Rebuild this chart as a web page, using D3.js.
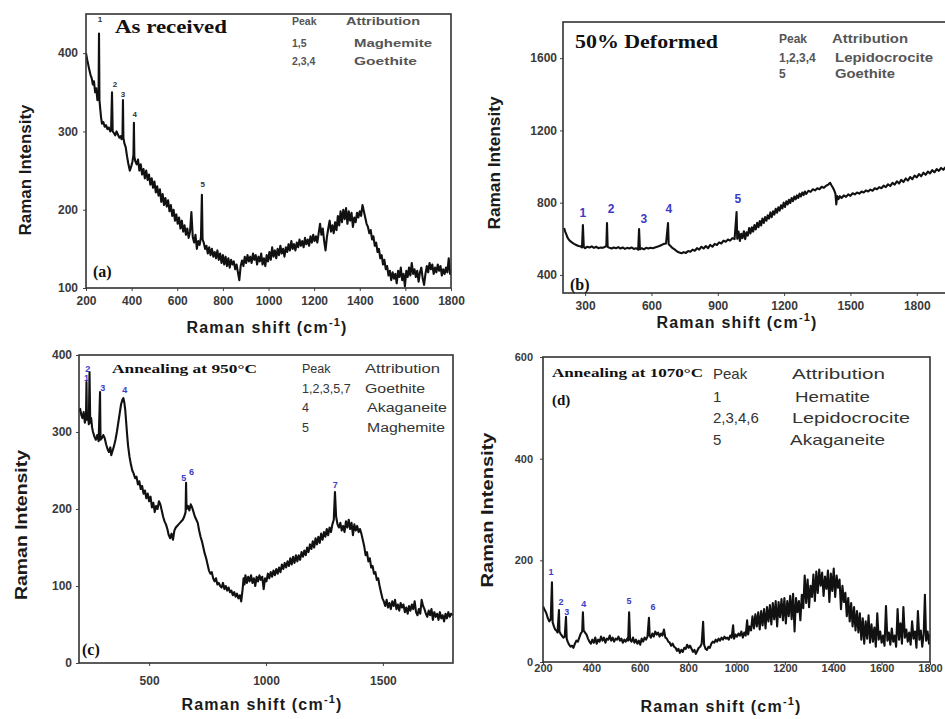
<!DOCTYPE html>
<html>
<head>
<meta charset="utf-8">
<script src="https://cdn.jsdelivr.net/npm/d3@7"></script>
<style>
  body { margin: 0; background: #fff; }
  svg { display: block; }
</style>
</head>
<body>
<div id="chart"></div>
<script>
// spectra: [Raman shift, intensity]
var specA = [
  [200,400],[205,392],[210,385],[215,378],[220,372],[225,368],[230,360],[235,364],[240,350],[245,355],[250,340],[255,345],
  [257,425],[259,340],[262,330],[266,318],[270,310],[276,312],[282,306],[288,308],[294,303],[300,305],[306,300],[310,302],
  [314,350],[317,300],[322,298],[328,295],[334,300],[340,296],[346,292],[352,294],[356,290],[360,296],[362,340],[364,292],
  [368,285],[374,280],[380,268],[386,258],[392,250],[398,255],[404,262],[408,270],[410,311],[412,268],[416,262],[422,258],
  [428,264],[434,250],[440,258],[446,245],[452,252],[458,240],[464,250],[470,238],[476,245],[482,232],[488,240],[494,228],
  [500,236],[506,222],[512,230],[518,218],[524,226],[530,210],[536,220],[542,206],[548,215],[554,204],[560,212],[566,198],
  [572,206],[578,192],[584,200],[590,186],[596,194],[602,182],[608,190],[614,176],[620,186],[626,172],[632,180],[638,168],
  [644,176],[650,164],[656,172],[662,197],[668,165],[674,158],[680,168],[686,150],[692,160],[698,155],[704,165],[708,219],
  [711,162],[716,158],[722,150],[728,154],[734,144],[740,152],[746,142],[752,150],[758,140],[764,146],[770,138],[776,148],
  [782,136],[788,144],[794,132],[800,142],[806,130],[812,140],[818,128],[824,138],[830,126],[836,136],[842,130],[848,134],
  [854,124],[860,130],[866,120],[872,110],[878,128],[884,135],[890,128],[896,140],[902,132],[908,142],[914,134],[920,140],
  [926,132],[932,144],[938,136],[944,142],[950,130],[956,140],[962,134],[968,144],[974,130],[980,138],[986,128],[992,142],
  [998,134],[1004,146],[1010,136],[1016,152],[1022,140],[1028,148],[1034,138],[1040,150],[1046,142],[1052,154],[1058,144],
  [1064,150],[1070,140],[1076,152],[1082,146],[1088,156],[1094,148],[1100,160],[1106,150],[1112,156],[1118,148],[1124,158],
  [1130,152],[1136,162],[1142,154],[1148,160],[1154,152],[1160,164],[1166,156],[1172,162],[1178,154],[1184,166],[1190,158],
  [1196,168],[1202,160],[1208,166],[1214,158],[1220,170],[1226,182],[1232,168],[1238,176],[1244,160],[1250,148],[1256,165],
  [1262,176],[1268,186],[1274,172],[1280,180],[1286,170],[1292,184],[1298,174],[1304,192],[1310,180],[1316,198],[1322,184],
  [1328,200],[1334,188],[1340,202],[1346,182],[1352,198],[1358,186],[1364,196],[1370,178],[1376,190],[1382,184],[1388,196],
  [1394,190],[1400,198],[1406,192],[1412,206],[1418,198],[1424,190],[1430,182],[1436,178],[1442,170],[1448,174],[1454,162],
  [1460,166],[1466,154],[1472,158],[1478,146],[1484,150],[1490,138],[1496,142],[1502,130],[1508,136],[1514,124],[1520,128],
  [1526,116],[1532,122],[1538,110],[1544,120],[1550,112],[1556,118],[1562,106],[1568,122],[1574,114],[1580,126],[1586,110],
  [1592,118],[1598,102],[1604,122],[1610,114],[1616,126],[1622,116],[1628,132],[1634,118],[1640,124],[1646,114],[1652,122],
  [1658,108],[1664,120],[1670,126],[1676,112],[1682,104],[1688,118],[1694,128],[1700,120],[1706,132],[1712,124],[1718,130],
  [1724,118],[1730,126],[1736,120],[1742,130],[1748,122],[1754,128],[1760,116],[1766,124],[1772,118],[1778,126],[1784,120],
  [1790,138],[1796,118],[1800,122]
];

var specB = [
  [205,660],[210,640],[215,625],[220,608],[225,598],[230,590],[240,580],[250,572],[260,566],[270,560],[280,558],[286,552],
  [290,676],[294,556],[300,548],[310,556],[320,552],[330,558],[340,550],[350,556],[360,548],[370,552],[380,550],[390,556],
  [396,560],[399,687],[402,555],[410,550],[420,546],[430,552],[440,548],[450,554],[460,546],[470,552],[480,544],[490,550],
  [500,546],[510,552],[520,544],[530,548],[540,540],[544,654],[548,542],[556,548],[566,542],[576,550],[586,546],[596,550],
  [606,548],[616,552],[626,556],[636,560],[646,566],[656,572],[666,574],[675,687],[678,570],[686,560],[696,548],[706,540],
  [716,530],[726,524],[736,520],[746,526],[756,522],[766,532],[776,528],[786,540],[796,534],[806,548],[816,540],[826,556],
  [836,546],[846,560],[856,548],[866,566],[876,556],[886,572],[896,566],[906,580],[916,574],[926,590],[936,584],[946,596],
  [956,590],[966,604],[976,598],[985,748],[988,600],[994,640],[1000,588],[1006,628],[1012,604],[1018,642],[1024,598],
  [1030,636],[1036,618],[1042,660],[1048,630],[1054,664],[1060,640],[1066,676],[1072,652],[1078,688],[1084,664],[1090,698],
  [1096,674],[1102,712],[1108,688],[1114,720],[1120,700],[1126,730],[1132,712],[1138,746],[1144,720],[1150,752],[1156,734],
  [1162,766],[1168,744],[1174,774],[1180,756],[1186,786],[1192,768],[1198,800],[1204,776],[1210,808],[1216,790],[1222,816],
  [1228,798],[1234,826],[1240,808],[1246,834],[1252,818],[1258,840],[1264,826],[1270,850],[1276,834],[1282,856],[1288,842],
  [1294,862],[1300,848],[1310,866],[1320,860],[1330,874],[1340,868],[1350,880],[1360,874],[1370,888],[1380,882],[1390,894],
  [1400,900],[1408,910],[1414,896],[1420,884],[1426,870],[1432,850],[1436,790],[1440,836],[1446,820],[1452,836],[1460,826],
  [1470,840],[1480,832],[1490,846],[1500,838],[1510,852],[1520,846],[1530,856],[1540,850],[1550,862],[1560,856],[1570,868],
  [1580,862],[1590,872],[1600,866],[1610,880],[1620,874],[1630,886],[1640,880],[1650,894],[1660,886],[1670,902],[1680,892],
  [1690,910],[1700,900],[1710,918],[1720,906],[1730,926],[1740,914],[1750,934],[1760,922],[1770,942],[1780,930],[1790,950],
  [1800,940],[1810,958],[1820,946],[1830,966],[1840,954],[1850,972],[1860,962],[1870,980],[1880,968],[1890,986],[1900,976],
  [1910,992],[1920,982],[1930,996],[1940,986],[1950,1000],[1960,990],[1970,1004],[1980,994],[1990,1008],[2000,998]
];

var specC = [
  [200,326],[205,330],[210,322],[215,318],[220,326],[225,312],[230,320],[232,365],[234,316],[238,324],[242,310],[245,378],
  [248,312],[252,318],[256,306],[260,300],[266,294],[272,290],[278,296],[284,288],[290,352],[292,290],[298,292],[304,296],
  [310,292],[316,284],[322,278],[328,274],[334,280],[338,270],[344,276],[350,282],[356,290],[362,300],[368,312],[374,324],
  [380,336],[386,342],[390,344],[394,338],[398,328],[402,312],[406,296],[410,282],[416,268],[422,258],[428,250],[434,246],
  [440,240],[446,242],[452,232],[458,236],[464,226],[470,230],[476,220],[482,224],[488,214],[494,220],[500,210],[506,216],
  [512,202],[518,208],[524,196],[530,204],[536,200],[542,210],[548,206],[554,198],[560,190],[566,184],[572,180],[578,174],
  [584,166],[590,162],[596,168],[602,160],[608,172],[614,176],[620,178],[626,180],[632,182],[638,184],[644,186],[650,190],
  [656,196],[658,234],[660,200],[666,204],[672,198],[678,206],[684,202],[690,196],[696,190],[702,186],[708,182],[714,172],
  [720,164],[726,158],[732,150],[738,142],[744,136],[750,128],[756,120],[762,116],[768,118],[774,110],[780,106],[786,110],
  [792,102],[798,104],[804,100],[810,98],[816,104],[822,96],[828,100],[834,94],[840,98],[846,92],[852,94],[858,88],
  [864,92],[870,86],[876,90],[882,84],[888,88],[894,80],[900,96],[904,110],[908,102],[912,114],[918,104],[924,112],
  [930,106],[936,114],[942,104],[948,110],[954,100],[960,112],[966,106],[972,114],[978,108],[984,112],[990,96],[996,110],
  [1002,106],[1008,116],[1014,110],[1020,118],[1026,112],[1032,120],[1038,114],[1044,122],[1050,116],[1056,124],[1062,118],
  [1068,128],[1074,122],[1080,130],[1086,124],[1092,132],[1098,126],[1104,136],[1110,128],[1116,138],[1122,130],[1128,140],
  [1134,132],[1140,140],[1146,134],[1152,144],[1158,138],[1164,146],[1170,140],[1176,150],[1182,144],[1188,154],[1194,148],
  [1200,158],[1206,150],[1212,162],[1218,154],[1224,164],[1230,156],[1236,168],[1242,160],[1248,170],[1254,164],[1260,174],
  [1266,166],[1272,176],[1278,170],[1284,180],[1290,186],[1295,222],[1300,190],[1306,180],[1312,176],[1318,182],[1324,172],
  [1330,178],[1336,170],[1342,184],[1348,176],[1354,186],[1360,174],[1366,182],[1372,166],[1378,180],[1384,172],[1390,178],
  [1396,170],[1402,174],[1408,168],[1414,160],[1420,152],[1426,140],[1432,144],[1438,132],[1444,136],[1450,124],[1456,126],
  [1462,116],[1468,118],[1474,108],[1480,110],[1486,100],[1492,92],[1498,84],[1504,80],[1510,74],[1516,82],[1522,72],
  [1528,78],[1534,70],[1540,80],[1546,74],[1552,82],[1558,70],[1564,76],[1570,68],[1576,78],[1582,72],[1588,76],[1594,66],
  [1600,72],[1606,64],[1612,74],[1618,68],[1624,76],[1630,70],[1636,80],[1642,66],[1648,62],[1654,70],[1660,64],[1666,82],
  [1672,74],[1678,70],[1684,64],[1690,60],[1696,68],[1702,62],[1708,70],[1714,56],[1720,66],[1726,60],[1732,64],[1738,56],
  [1744,66],[1750,58],[1756,62],[1762,54],[1768,64],[1774,58],[1780,66],[1786,60],[1792,64],[1800,62]
];

var specD = [
  [200,110],[205,104],[210,100],[215,94],[220,86],[226,80],[232,84],[237,157],[240,78],[245,70],[250,64],[255,62],[260,58],
  [266,102],[268,60],[272,56],[278,52],[284,48],[290,50],[295,89],[298,46],[302,40],[308,34],[314,30],[320,32],[326,28],
  [332,36],[338,42],[344,40],[350,48],[356,56],[362,60],[365,98],[368,62],[374,58],[380,54],[386,46],[392,40],[398,36],
  [404,44],[410,38],[416,48],[422,36],[428,44],[434,40],[440,50],[446,42],[452,48],[458,38],[464,46],[470,44],[476,52],
  [482,42],[488,48],[494,40],[500,46],[506,44],[512,50],[518,42],[524,46],[530,38],[536,44],[542,40],[548,46],[552,42],
  [556,98],[560,44],[566,40],[572,48],[578,38],[584,44],[590,36],[596,42],[602,34],[608,46],[614,40],[620,48],[626,44],
  [632,50],[638,87],[641,52],[646,48],[652,56],[658,50],[664,60],[670,54],[676,58],[682,50],[688,56],[694,52],[700,64],
  [706,48],[712,46],[718,40],[724,38],[730,32],[736,36],[742,30],[748,28],[754,22],[760,26],[766,18],[772,24],[778,20],
  [784,28],[790,26],[796,34],[802,28],[808,32],[814,26],[820,20],[826,24],[832,16],[838,22],[844,28],[850,30],[856,36],
  [862,79],[866,34],[872,26],[878,24],[884,30],[890,28],[896,36],[902,40],[908,38],[914,44],[920,40],[926,46],[932,42],
  [938,48],[944,44],[950,50],[956,46],[962,48],[968,44],[974,52],[980,48],[986,72],[990,46],[996,54],[1002,50],[1008,56],
  [1014,52],[1020,60],[1026,48],[1032,58],[1038,52],[1044,82],[1048,54],[1054,70],[1060,62],[1066,90],[1072,66],[1078,94],
  [1084,70],[1090,98],[1096,64],[1102,100],[1108,72],[1114,104],[1120,66],[1126,108],[1132,80],[1138,112],[1144,74],
  [1150,116],[1156,84],[1162,120],[1168,70],[1174,118],[1180,88],[1186,124],[1192,82],[1198,126],[1204,76],[1210,120],
  [1216,90],[1222,130],[1228,84],[1234,134],[1240,60],[1246,126],[1252,98],[1258,120],[1264,82],[1270,132],[1276,106],
  [1282,170],[1288,116],[1294,162],[1300,108],[1306,150],[1312,128],[1318,172],[1324,120],[1330,178],[1336,136],[1342,182],
  [1348,150],[1354,176],[1360,130],[1366,168],[1372,144],[1378,180],[1384,118],[1390,174],[1396,140],[1402,184],[1408,128],
  [1414,170],[1420,146],[1426,162],[1432,104],[1438,150],[1444,118],[1450,136],[1456,90],[1462,126],[1468,80],[1474,116],
  [1480,70],[1486,108],[1492,62],[1498,100],[1504,58],[1510,96],[1516,44],[1522,86],[1528,36],[1534,80],[1540,46],
  [1546,92],[1552,38],[1558,74],[1564,40],[1570,68],[1576,30],[1582,96],[1588,44],[1594,60],[1600,38],[1606,52],[1612,32],
  [1618,110],[1624,42],[1630,58],[1636,34],[1642,66],[1648,40],[1654,52],[1660,30],[1666,104],[1672,44],[1678,76],
  [1684,36],[1690,108],[1696,48],[1702,64],[1708,40],[1714,58],[1720,34],[1726,80],[1732,46],[1738,60],[1744,28],
  [1750,100],[1756,44],[1762,62],[1768,30],[1774,56],[1779,132],[1784,42],[1790,60],[1796,36],[1800,54]
];

// tick values
var xTicksA = [200, 400, 600, 800, 1000, 1200, 1400, 1600, 1800];
var yTicksA = [100, 200, 300, 400];
var xTicksB = [300, 600, 900, 1200, 1500, 1800];
var yTicksB = [400, 800, 1200, 1600];
var xTicksC = [500, 1000, 1500];
var yTicksC = [0, 100, 200, 300, 400];
var xTicksD = [200, 400, 600, 800, 1000, 1200, 1400, 1600, 1800];
var yTicksD = [0, 200, 400, 600];

// peak numbers: [label, shift, intensity]
var peaksA = [["1",261,440],["2",327,357],["3",362,344],["4",414,318],["5",712,229]];
var peaksB = [["1",290,720],["2",417,743],["3",566,687],["4",679,743],["5",991,798]];
var peaksC = [["1",232,366],["2",238,378],["3",302,353],["4",396,351],["5",648,236],["6",681,244],["7",1296,227]];
var peaksD = [["1",233,171],["2",274,112],["3",298,93],["4",369,108],["5",556,114],["6",655,102]];

// peak / attribution tables
var legendA = [["Peak","Attribution"],["1,5","Maghemite"],["2,3,4","Goethite"]];
var legendB = [["Peak","Attribution"],["1,2,3,4","Lepidocrocite"],["5","Goethite"]];
var legendC = [["Peak","Attribution"],["1,2,3,5,7","Goethite"],["4","Akaganeite"],["5","Maghemite"]];
var legendD = [["Peak","Attribution"],["1","Hematite"],["2,3,4,6","Lepidocrocite"],["5","Akaganeite"]];

var titles = ["As received", "50% Deformed", "Annealing at 950\u00b0C", "Annealing at 1070\u00b0C"];
var tags = ["(a)", "(b)", "(c)", "(d)"];

var W = 945, H = 719;
var SANS = "'Liberation Sans', Arial, sans-serif";
var SERIF = "'Liberation Serif', 'Times New Roman', serif";

var svg = d3.select("#chart").append("svg")
    .attr("width", W)
    .attr("height", H);

svg.append("rect").attr("width", W).attr("height", H).attr("fill", "#fff");

var panels = [
  {data: specA, xt: xTicksA, yt: yTicksA, peaks: peaksA, legend: legendA, title: titles[0], tag: tags[0],
   left: 86, right: 451, top: 14, bottom: 288, xDom: [200, 1800], yDom: [100, 450],
   tickFs: 12, xLabBase: 305, yLabRight: 78,
   yTitle: [25, 170, 131], xTitle: [267, 333, 163],
   titlePos: [115, 33, 18, 112], tagPos: [93, 277, 16],
   leg: {fs: 10.5, weight: 700, fill: "#555", c1: 292, c2: [346, 354, 354], rows: [25, 47, 65], w2: [74, 78, 63]},
   peakFs: 8, peakFill: "#333"},
  {data: specB, xt: xTicksB, yt: yTicksB, peaks: peaksB, legend: legendB, title: titles[1], tag: tags[1],
   left: 563, right: 961, top: 22, bottom: 293, xDom: [200, 2000], yDom: [300, 1800],
   tickFs: 12, xLabBase: 310, yLabRight: 557,
   yTitle: [494, 163, 133], xTitle: [737, 328, 175],
   titlePos: [575, 48, 19, 143], tagPos: [570, 290, 16],
   leg: {fs: 12, weight: 700, fill: "#555", c1: 779, c2: [832, 835, 835], rows: [43, 62, 78], w2: [76, 98, 60]},
   peakFs: 12, peakFill: "#3b3bc4"},
  {data: specC, xt: xTicksC, yt: yTicksC, peaks: peaksC, legend: legendC, title: titles[2], tag: tags[2],
   left: 79, right: 453, top: 355, bottom: 663, xDom: [200, 1800], yDom: [0, 400],
   tickFs: 12, xLabBase: 685, yLabRight: 72,
   yTitle: [21, 525, 150], xTitle: [262, 710, 171],
   titlePos: [112, 373, 13, 145], tagPos: [82, 655, 16],
   leg: {fs: 12.5, weight: 400, fill: "#333", c1: 302, c2: [365, 365, 367, 367], rows: [373, 393, 412, 432], w2: [75, 60, 80, 78]},
   peakFs: 9, peakFill: "#3b3bc4"},
  {data: specD, xt: xTicksD, yt: yTicksD, peaks: peaksD, legend: legendD, title: titles[3], tag: tags[3],
   left: 543, right: 930, top: 357, bottom: 662, xDom: [200, 1800], yDom: [0, 600],
   tickFs: 11, xLabBase: 672, yLabRight: 533,
   yTitle: [487, 510, 155], xTitle: [721, 712, 177],
   titlePos: [552, 377, 12, 151], tagPos: [552, 405, 15],
   leg: {fs: 15, weight: 400, fill: "#333", c1: 713, c2: [792, 795, 792, 790], rows: [379, 402, 423, 445], w2: [93, 75, 118, 95]},
   peakFs: 9, peakFill: "#3b3bc4"}
];

panels.forEach(function(p, i){

    var x = d3.scaleLinear().domain(p.xDom).range([p.left, p.right]);
    var y = d3.scaleLinear().domain(p.yDom).range([p.bottom, p.top]);

    var g = svg.append("g");

    g.append("clipPath").attr("id", "clip" + i)
        .append("rect")
        .attr("x", p.left).attr("y", p.top)
        .attr("width", p.right - p.left).attr("height", p.bottom - p.top);

    // axes, domain line replaced by the frame below
    var tickSize = 3;
    var xAxis = d3.axisBottom(x).tickValues(p.xt).tickSize(tickSize)
        .tickPadding(p.xLabBase - p.bottom - tickSize - 0.71 * p.tickFs)
        .tickFormat(d3.format("d"));
    var gx = g.append("g").attr("transform", "translate(0," + p.bottom + ")").call(xAxis);

    var yAxis = d3.axisLeft(y).tickValues(p.yt).tickSize(tickSize)
        .tickPadding(p.left - p.yLabRight - tickSize)
        .tickFormat(d3.format("d"));
    var gy = g.append("g").attr("transform", "translate(" + p.left + ",0)").call(yAxis);

    [gx, gy].forEach(function(ax){
        ax.select(".domain").remove();
        ax.selectAll(".tick line").attr("stroke", "#444");
        ax.selectAll("text")
            .attr("font-family", SANS)
            .attr("font-size", p.tickFs)
            .attr("font-weight", 700)
            .attr("fill", "#3a3a3a");
    });

    // spectrum
    var line = d3.line()
        .x(function(d){ return x(d[0]); })
        .y(function(d){ return y(d[1]); });

    g.append("path")
        .datum(p.data)
        .attr("clip-path", "url(#clip" + i + ")")
        .attr("fill", "none")
        .attr("stroke", "#111")
        .attr("stroke-width", 2.1)
        .attr("stroke-linejoin", "round")
        .attr("d", line);

    // frame
    g.append("rect")
        .attr("x", p.left).attr("y", p.top)
        .attr("width", p.right - p.left).attr("height", p.bottom - p.top)
        .attr("fill", "none")
        .attr("stroke", "#333")
        .attr("stroke-width", 1.6);

    // peak numbers
    g.selectAll(".pk")
        .data(p.peaks)
        .enter()
        .append("text")
        .attr("x", function(d){ return x(d[1]); })
        .attr("y", function(d){ return y(d[2]); })
        .attr("text-anchor", "middle")
        .attr("font-family", SANS)
        .attr("font-size", p.peakFs)
        .attr("font-weight", 700)
        .attr("fill", p.peakFill)
        .text(function(d){ return d[0]; });

    // title inside the frame
    g.append("text")
        .attr("x", p.titlePos[0]).attr("y", p.titlePos[1])
        .attr("font-family", SERIF)
        .attr("font-size", p.titlePos[2])
        .attr("font-weight", 700)
        .attr("fill", "#111")
        .attr("textLength", p.titlePos[3])
        .attr("lengthAdjust", "spacingAndGlyphs")
        .text(p.title);

    g.append("text")
        .attr("x", p.tagPos[0]).attr("y", p.tagPos[1])
        .attr("font-family", SERIF)
        .attr("font-size", p.tagPos[2])
        .attr("font-weight", 700)
        .attr("fill", "#111")
        .text(p.tag);

    // peak / attribution table
    p.legend.forEach(function(row, r){
        g.append("text")
            .attr("x", p.leg.c1).attr("y", p.leg.rows[r])
            .attr("font-family", SANS)
            .attr("font-size", p.leg.fs)
            .attr("font-weight", p.leg.weight)
            .attr("fill", p.leg.fill)
            .text(row[0]);
        g.append("text")
            .attr("x", p.leg.c2[r]).attr("y", p.leg.rows[r])
            .attr("font-family", SANS)
            .attr("font-size", p.leg.fs)
            .attr("font-weight", p.leg.weight)
            .attr("fill", p.leg.fill)
            .attr("textLength", p.leg.w2[r])
            .attr("lengthAdjust", "spacingAndGlyphs")
            .text(row[1]);
    });

    // axis titles
    g.append("text")
        .attr("transform", "translate(" + (p.yTitle[0] + 6) + "," + p.yTitle[1] + ") rotate(-90)")
        .attr("text-anchor", "middle")
        .attr("font-family", SANS)
        .attr("font-size", 16)
        .attr("font-weight", 700)
        .attr("fill", "#1a1a1a")
        .attr("textLength", p.yTitle[2])
        .attr("lengthAdjust", "spacingAndGlyphs")
        .text("Raman Intensity");

    var xt = g.append("text")
        .attr("x", p.xTitle[0]).attr("y", p.xTitle[1])
        .attr("text-anchor", "middle")
        .attr("font-family", SANS)
        .attr("font-size", 16)
        .attr("font-weight", 700)
        .attr("letter-spacing", 1.2)
        .attr("fill", "#1a1a1a");
    xt.append("tspan").text("Raman shift (cm");
    xt.append("tspan").attr("dy", -7).attr("font-size", 11).text("-1");
    xt.append("tspan").attr("dy", 7).text(")");
});
</script>
</body>
</html>
